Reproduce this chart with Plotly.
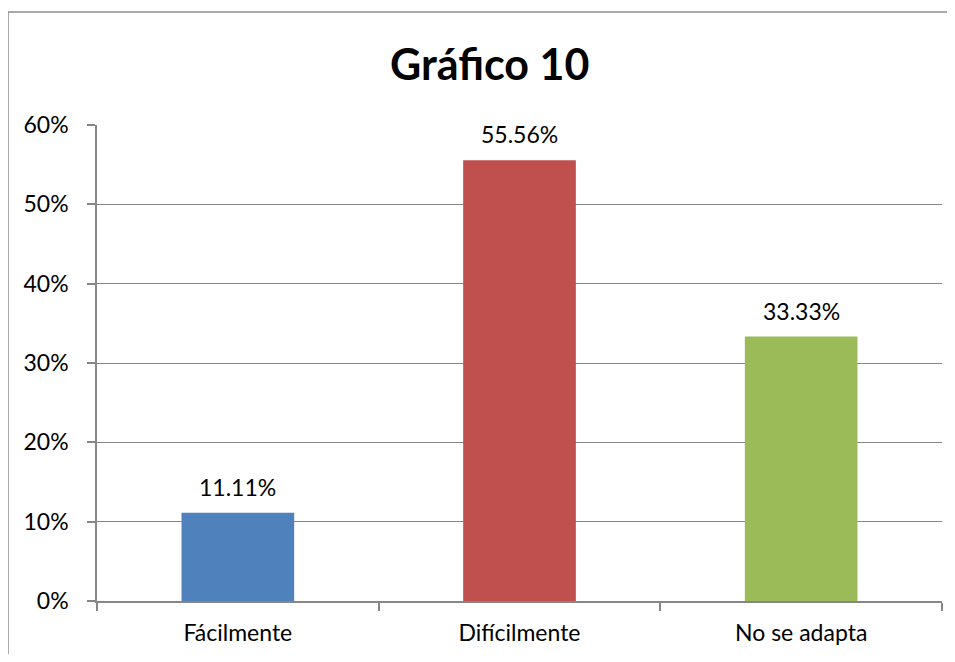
import plotly.graph_objects as go

categories = ["Fácilmente", "Difícilmente", "No se adapta"]
values = [11.11, 55.56, 33.33]
colors = ["#4f81bd", "#c0504d", "#9bbb59"]
y_ticks = [0, 10, 20, 30, 40, 50, 60]
y_tick_labels = ["0%", "10%", "20%", "30%", "40%", "50%", "60%"]

FONT = "Lato, Open Sans, sans-serif"
GRID = "#868686"

fig = go.Figure()
fig.add_trace(go.Bar(x=categories, y=values, marker_color=colors, width=0.4,
                     marker_line_width=0, showlegend=False))

# data labels above each bar
for cat, v in zip(categories, values):
    fig.add_annotation(x=cat, y=v, text=f"{v:.2f}%", showarrow=False,
                       yanchor="bottom", yshift=10,
                       font=dict(family=FONT, size=23, color="#000000"))

# chart border: only the left and top edges show in the crop
bx0, by1 = -89 / 845, 1 + 113 / 476
fig.add_shape(type="line", xref="paper", yref="paper",
              x0=bx0, x1=bx0, y0=-0.3, y1=by1,
              line=dict(color="#8c8c8c", width=1.5), layer="below")
fig.add_shape(type="line", xref="paper", yref="paper",
              x0=bx0, x1=1.3, y0=by1, y1=by1,
              line=dict(color="#8c8c8c", width=1.5), layer="below")

fig.update_layout(
    width=939, height=646,
    margin=dict(l=89, r=5, t=117, b=53),
    paper_bgcolor="white", plot_bgcolor="white",
    title=dict(text="<b>Gráfico 10</b>", x=0.513, xanchor="center",
               y=0.912, yanchor="middle",
               font=dict(family=FONT, size=43, color="#000000")),
    bargap=0.6,
    xaxis=dict(showline=True, linecolor=GRID, linewidth=1.5,
               ticks="outside", ticklen=8, tickcolor=GRID, tickwidth=1.5,
               tickson="boundaries", showgrid=False, ticklabelstandoff=11,
               tickfont=dict(family=FONT, size=23, color="#000000")),
    yaxis=dict(range=[0, 60], tickvals=y_ticks, ticktext=y_tick_labels,
               showline=True, linecolor=GRID, linewidth=1.5,
               ticks="outside", ticklen=8, tickcolor=GRID, tickwidth=1.5,
               showgrid=True, gridcolor=GRID, gridwidth=1.2, zeroline=False,
               ticklabelstandoff=14,
               tickfont=dict(family=FONT, size=23, color="#000000")),
)

fig.write_html("out.html")
